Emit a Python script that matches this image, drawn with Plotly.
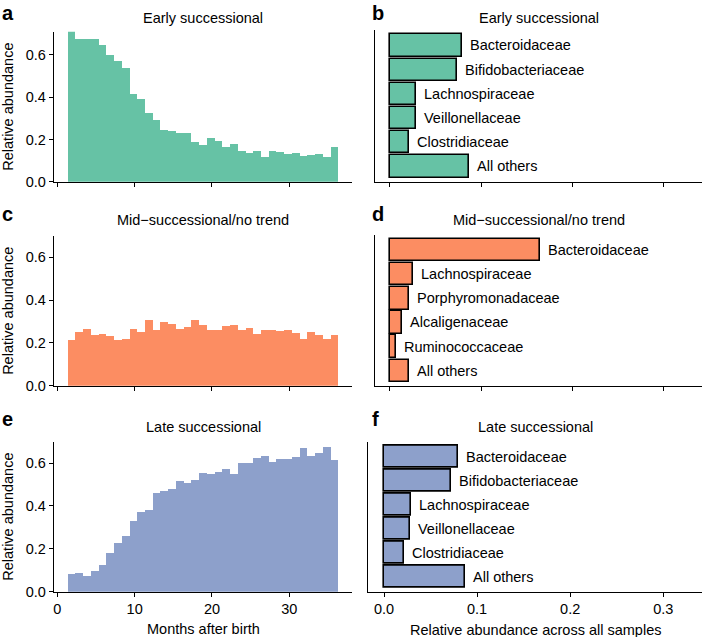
import plotly.graph_objects as go

W, H = 702, 637
FONT = "Liberation Sans, Arial, sans-serif"
FS = 14.5

# month bins (bin centres, 1-month wide)
month_bins = [1.84, 2.84, 3.84, 4.84, 5.84, 6.84, 7.84, 8.84, 9.84, 10.84,
              11.84, 12.84, 13.84, 14.84, 15.84, 16.84, 17.84, 18.84, 19.84, 20.84,
              21.84, 22.84, 23.84, 24.84, 25.84, 26.84, 27.84, 28.84, 29.84, 30.84,
              31.84, 32.84, 33.84, 34.84, 35.84]

early_trend = [0.72, 0.676, 0.679, 0.679, 0.65, 0.60, 0.572, 0.538, 0.417, 0.392,
               0.325, 0.294, 0.246, 0.24, 0.23, 0.23, 0.19, 0.177, 0.208, 0.196,
               0.164, 0.18, 0.148, 0.139, 0.148, 0.12, 0.148, 0.142, 0.133, 0.139,
               0.123, 0.129, 0.133, 0.117, 0.167]

mid_trend = [0.216, 0.252, 0.267, 0.236, 0.244, 0.233, 0.213, 0.218, 0.267, 0.25,
             0.306, 0.26, 0.298, 0.29, 0.263, 0.275, 0.306, 0.283, 0.26, 0.26,
             0.278, 0.284, 0.26, 0.27, 0.241, 0.26, 0.26, 0.255, 0.26, 0.247,
             0.22, 0.249, 0.235, 0.22, 0.236]

late_trend = [0.082, 0.09, 0.074, 0.10, 0.124, 0.182, 0.229, 0.26, 0.332, 0.374,
              0.383, 0.461, 0.47, 0.482, 0.52, 0.51, 0.521, 0.555, 0.55, 0.561,
              0.572, 0.55, 0.603, 0.603, 0.625, 0.637, 0.606, 0.619, 0.623, 0.628,
              0.671, 0.637, 0.648, 0.677, 0.614]

early_families = ["Bacteroidaceae", "Bifidobacteriaceae", "Lachnospiraceae",
                  "Veillonellaceae", "Clostridiaceae", "All others"]
early_share = [0.079, 0.073, 0.029, 0.028, 0.021, 0.087]

mid_families = ["Bacteroidaceae", "Lachnospiraceae", "Porphyromonadaceae",
                "Alcaligenaceae", "Ruminococcaceae", "All others"]
mid_share = [0.164, 0.0255, 0.0207, 0.0135, 0.0069, 0.0204]

late_families = ["Bacteroidaceae", "Bifidobacteriaceae", "Lachnospiraceae",
                 "Veillonellaceae", "Clostridiaceae", "All others"]
late_share = [0.079, 0.072, 0.029, 0.028, 0.021, 0.087]

titles = ["Early successional", "Mid\u2212successional/no trend", "Late successional"]
colors = ["#66c2a5", "#fc8d62", "#8da0cb"]


def px(x0, x1):
    return [x0 / W, x1 / W]


def py(top, bottom):
    return [1 - bottom / H, 1 - top / H]


def yp(y):
    return 1 - y / H


# pixel boxes: (left, right, top, bottom)
left_boxes = [(54, 352, 31.7, 181.7), (54, 352, 236, 385.7), (54, 352, 441.7, 591.7)]
right_boxes = [(375, 702, 30, 181.7), (375, 702, 235, 385.7), (368, 702, 441.7, 591.7)]
left_ymax = [0.71, 0.70, 0.70]
right_xrange = [[-0.0164, 0.3417], [-0.0164, 0.3417], [-0.0172, 0.3416]]

fig = go.Figure()
layout = dict(
    width=W, height=H, template="none",
    margin=dict(l=0, r=0, t=0, b=0),
    paper_bgcolor="white", plot_bgcolor="white",
    font=dict(family=FONT, size=FS, color="black"),
    showlegend=False, bargap=0,
)
annotations = []

axis_common = dict(showgrid=False, zeroline=False, showline=True, linecolor="black",
                   linewidth=1.3, ticks="outside", ticklen=4, tickwidth=1.1,
                   tickcolor="black", automargin=False,
                   tickfont=dict(family=FONT, size=FS, color="black"))

trends = [early_trend, mid_trend, late_trend]
shares = [(early_families, early_share), (mid_families, mid_share), (late_families, late_share)]
letters = [("a", "b"), ("c", "d"), ("e", "f")]
title_y = [18, 220, 427]
letter_y = [13, 214, 419]

for i in range(3):
    li = 2 * i + 1
    ri = 2 * i + 2
    lx, rx = f"x{li}", f"x{ri}"
    ly, ry = f"y{li}", f"y{ri}"

    # left: trend over months
    fig.add_trace(go.Bar(x=month_bins, y=trends[i], width=1, marker_color=colors[i],
                         marker_line_width=0, xaxis=lx, yaxis=ly))
    l, r, t, b = left_boxes[i]
    layout[f"xaxis{li}"] = dict(axis_common, domain=px(l, r), anchor=ly,
                                range=[-0.427, 38.11], tickvals=[0, 10, 20, 30],
                                showticklabels=(i == 2))
    layout[f"yaxis{li}"] = dict(axis_common, domain=py(t, b), anchor=lx,
                                range=[0, left_ymax[i]], tickvals=[0, 0.2, 0.4, 0.6],
                                tickformat=".1f")

    # right: family shares
    fams, vals = shares[i]
    pos = list(range(len(fams)))
    fig.add_trace(go.Bar(x=vals, y=pos, orientation="h", width=0.92,
                         marker=dict(color=colors[i], line=dict(color="black", width=1.6)),
                         xaxis=rx, yaxis=ry))
    l2, r2, t2, b2 = right_boxes[i]
    layout[f"xaxis{ri}"] = dict(axis_common, domain=px(l2, r2), anchor=ry,
                                range=right_xrange[i], tickvals=[0, 0.1, 0.2, 0.3],
                                tickformat=".1f", showticklabels=(i == 2))
    layout[f"yaxis{ri}"] = dict(axis_common, domain=py(t2, b2), anchor=rx,
                                range=[5.63, -0.64], ticks="", showticklabels=False)
    for fam, v, p in zip(fams, vals, pos):
        annotations.append(dict(x=v, y=p, xref=rx, yref=ry, text=fam, showarrow=False,
                                xanchor="left", yanchor="middle", xshift=6,
                                font=dict(family=FONT, size=FS, color="black")))

    # panel titles
    annotations.append(dict(x=(l + r) / 2 / W, y=yp(title_y[i]), xref="paper", yref="paper",
                            text=titles[i], showarrow=False, xanchor="center", yanchor="middle",
                            font=dict(family=FONT, size=FS, color="black")))
    annotations.append(dict(x=(l2 + r2) / 2 / W, y=yp(title_y[i]), xref="paper", yref="paper",
                            text=titles[i], showarrow=False, xanchor="center", yanchor="middle",
                            font=dict(family=FONT, size=FS, color="black")))
    # panel letters
    annotations.append(dict(x=0, y=yp(letter_y[i]), xref="paper", yref="paper",
                            text=f"<b>{letters[i][0]}</b>", showarrow=False,
                            xanchor="left", yanchor="middle",
                            font=dict(family=FONT, size=20, color="black")))
    annotations.append(dict(x=370 / W, y=yp(letter_y[i]), xref="paper", yref="paper",
                            text=f"<b>{letters[i][1]}</b>", showarrow=False,
                            xanchor="left", yanchor="middle",
                            font=dict(family=FONT, size=20, color="black")))
    # y axis title
    annotations.append(dict(x=8 / W, y=yp((t + b) / 2), xref="paper", yref="paper",
                            text="Relative abundance", textangle=-90, showarrow=False,
                            xanchor="center", yanchor="middle",
                            font=dict(family=FONT, size=FS, color="black")))

annotations.append(dict(x=203 / W, y=yp(629), xref="paper", yref="paper",
                        text="Months after birth", showarrow=False,
                        xanchor="center", yanchor="middle",
                        font=dict(family=FONT, size=FS, color="black")))
annotations.append(dict(x=535 / W, y=yp(630), xref="paper", yref="paper",
                        text="Relative abundance across all samples", showarrow=False,
                        xanchor="center", yanchor="middle",
                        font=dict(family=FONT, size=FS, color="black")))

layout["annotations"] = annotations
fig.update_layout(**layout)
# page body has a default 8px margin; drop it so the figure fills the window
fig.write_html("out.html", config={"displayModeBar": False},
               post_script="document.body.style.margin='0px';")
